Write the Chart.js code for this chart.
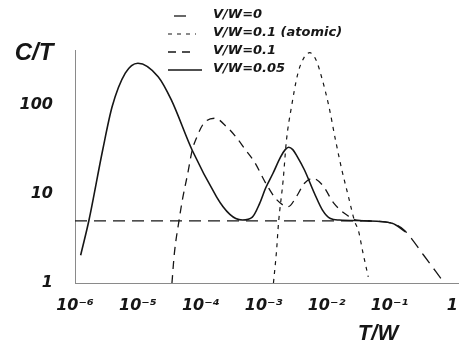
<!DOCTYPE html>
<html>
<head>
<meta charset="utf-8">
<script src="https://cdn.jsdelivr.net/npm/chart.js@4.4.1/dist/chart.umd.min.js"></script>
<style>
  body { margin: 0; background: #fff; }
  canvas { display: block; }
</style>
</head>
<body>
<canvas id="myChart" width="471" height="345"></canvas>
<script>
// axis ticks
const xTicks = [1e-6, 1e-5, 1e-4, 1e-3, 1e-2, 1e-1, 1];
const xTickLabels = ['10⁻⁶', '10⁻⁵', '10⁻⁴', '10⁻³', '10⁻²', '10⁻¹', '1'];
const yTicks = [1, 10, 100];
const yTickLabels = ['1', '10', '100'];

// V/W=0
const xV0 = [1e-6, 1e-2, 0.055, 0.11, 0.17, 0.35, 0.67];
const yV0 = [5, 5, 4.95, 4.7, 3.95, 2.05, 1.1];

// V/W=0.1 (atomic)
const xAtomic = [1.43e-3, 1.6e-3, 1.72e-3, 2.04e-3, 2.3e-3, 2.77e-3, 3.5e-3, 4.45e-3, 5.4e-3, 6.8e-3,
                 8.6e-3, 1.09e-2, 1.39e-2, 1.75e-2, 2.23e-2, 2.8e-2, 3.2e-2, 3.8e-2, 4.6e-2];
const yAtomic = [1.0, 2.3, 4.7, 14.4, 40, 96, 227, 348, 387, 320,
                 190, 96, 40, 18.6, 9.3, 4.9, 3.9, 2.16, 1.17];

// V/W=0.1
const xV01 = [3.48e-5, 3.8e-5, 4.5e-5, 5.1e-5, 6.2e-5, 7.3e-5, 8.7e-5, 1.11e-4, 1.68e-4, 2.57e-4,
              3.6e-4, 5.2e-4, 7.1e-4, 1.12e-3, 1.62e-3, 2.46e-3, 3.3e-3, 4.45e-3, 6e-3, 8.6e-3,
              1.3e-2, 2.1e-2, 3e-2, 5e-2];
const yV01 = [1, 2.15, 5, 8.6, 17, 31, 44, 62, 71, 57,
              44, 31, 23, 12.6, 8.6, 7.2, 9.3, 13.2, 15, 12.6,
              7.9, 5.8, 5.1, 5.0];

// V/W=0.05
const xV005 = [1.23e-6, 1.67e-6, 2.75e-6, 3.9e-6, 6.3e-6, 1e-5, 2.1e-5, 3.4e-5, 7.3e-5, 1.78e-4,
               2.26e-4, 2.9e-4, 3.6e-4, 4.6e-4, 6.6e-4, 8.6e-4, 1.07e-3, 1.4e-3, 1.85e-3, 2.2e-3,
               2.5e-3, 2.9e-3, 3.4e-3, 4.45e-3, 6.4e-3, 8.6e-3, 1.15e-2, 1.6e-2, 4e-2, 0.11, 0.18];
const yV005 = [2.05, 5.1, 31, 96, 228, 295, 208, 114, 31, 9.3,
               7.2, 5.9, 5.3, 5.1, 5.5, 7.8, 11.6, 17, 26, 31.5,
               33.5, 31.5, 26.5, 18.6, 10.2, 6.6, 5.3, 5.1, 5.0, 4.7, 3.75];

const pts = (xs, ys) => xs.map((x, i) => ({ x: x, y: ys[i] }));

const ink = '#161616';
const family = "'Liberation Sans', Arial, sans-serif";
const tickFamily = "'DejaVu Sans', sans-serif";
const tickFont = { family: tickFamily, size: 16, style: 'italic', weight: 'bold' };

// legend + axis titles drawn on top
const sampleSpan = [[174, 188], [168, 196], [168, 194], [168, 202]];
const extras = {
    id: 'extras',
    afterDraw(chart) {
        const c = chart.ctx;
        c.save();
        c.fillStyle = ink;
        c.textBaseline = 'middle';
        c.textAlign = 'center';
        c.font = 'italic bold 24px ' + family;
        c.fillText('C/T', 34, 53);
        c.font = 'italic bold 22px ' + family;
        c.fillText('T/W', 378, 334);

        c.textAlign = 'left';
        c.font = 'italic bold 13px ' + tickFamily;
        chart.data.datasets.forEach((ds, i) => {
            const y = 15 + i * 18;
            c.strokeStyle = ds.borderColor;
            c.lineWidth = ds.borderWidth;
            c.setLineDash(ds.borderDash || []);
            c.beginPath();
            c.moveTo(sampleSpan[i][0], y + 1);
            c.lineTo(sampleSpan[i][1], y + 1);
            c.stroke();
            c.fillText(ds.label, 213, y);
        });
        c.restore();
    }
};

const ctx = document.getElementById('myChart').getContext('2d');
const myChart = new Chart(ctx, {
    type: 'line',
    data: {
        datasets: [
            { label: 'V/W=0', data: pts(xV0, yV0), borderColor: ink, borderWidth: 1.3, borderDash: [12, 7] },
            { label: 'V/W=0.1 (atomic)', data: pts(xAtomic, yAtomic), borderColor: ink, borderWidth: 1.2, borderDash: [4, 5] },
            { label: 'V/W=0.1', data: pts(xV01, yV01), borderColor: ink, borderWidth: 1.3, borderDash: [8, 6] },
            { label: 'V/W=0.05', data: pts(xV005, yV005), borderColor: ink, borderWidth: 1.6 }
        ]
    },
    options: {
        responsive: false,
        animation: false,
        layout: { padding: { top: 50, right: 3, left: 0, bottom: 0 } },
        elements: {
            point: { radius: 0 },
            line: { cubicInterpolationMode: 'monotone', fill: false }
        },
        plugins: {
            legend: { display: false },
            tooltip: { enabled: false }
        },
        scales: {
            x: {
                type: 'logarithmic',
                min: 1e-6,
                max: 1.26,
                grid: { display: false, drawTicks: false },
                border: { display: true, color: '#8a8a8a', width: 1 },
                afterBuildTicks: (s) => { s.ticks = xTicks.map(v => ({ value: v })); },
                afterFit: (s) => { s.height = 62; },
                ticks: {
                    autoSkip: false,
                    maxRotation: 0,
                    padding: 13,
                    color: ink,
                    font: tickFont,
                    callback: (v, i) => xTickLabels[i]
                }
            },
            y: {
                type: 'logarithmic',
                min: 1,
                max: 415,
                grid: { display: false, drawTicks: false },
                border: { display: true, color: '#8a8a8a', width: 1 },
                afterBuildTicks: (s) => { s.ticks = yTicks.map(v => ({ value: v })); },
                afterFit: (s) => { s.width = 75; },
                ticks: {
                    padding: 22,
                    color: ink,
                    font: tickFont,
                    callback: (v, i) => yTickLabels[i]
                }
            }
        }
    },
    plugins: [extras]
});
</script>
</body>
</html>
